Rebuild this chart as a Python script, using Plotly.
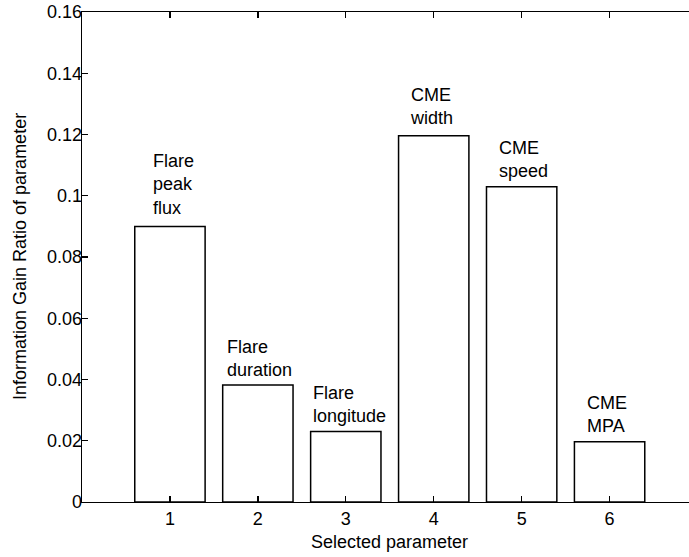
import plotly.graph_objects as go

params = [1, 2, 3, 4, 5, 6]
gain_ratio = [0.090, 0.0382, 0.023, 0.1196, 0.1029, 0.0197]
bar_labels = ["Flare<br>peak<br>flux", "Flare<br>duration", "Flare<br>longitude",
              "CME<br>width", "CME<br>speed", "CME<br>MPA"]
label_x = [0.79, 1.625, 2.60, 3.71, 4.72, 5.715]
label_y = [0.1036, 0.0467, 0.0320, 0.1291, 0.1117, 0.0286]
y_ticks = [0, 0.02, 0.04, 0.06, 0.08, 0.1, 0.12, 0.14, 0.16]
y_tick_text = ["0", "0.02", "0.04", "0.06", "0.08", "0.1", "0.12", "0.14", "0.16"]

FONT = "Liberation Sans, Arial, Helvetica, sans-serif"
FS = 18

fig = go.Figure()
fig.add_trace(go.Bar(
    x=params, y=gain_ratio, width=0.8,
    marker=dict(color="white", line=dict(color="black", width=1.5)),
    showlegend=False, hoverinfo="skip",
))

for t, x, y in zip(bar_labels, label_x, label_y):
    fig.add_annotation(x=x, y=y, xref="x", yref="y", text=t, showarrow=False,
                       xanchor="left", yanchor="middle", align="left",
                       font=dict(family=FONT, size=FS, color="black"))

fig.add_annotation(x=0, y=0.5, xref="paper", yref="paper", xshift=-62,
                   text="Information Gain Ratio of parameter", textangle=-90,
                   showarrow=False, xanchor="center", yanchor="middle",
                   font=dict(family=FONT, size=FS, color="black"))
fig.add_annotation(x=(3.5 - 0) / 6.903, y=0, xref="paper", yref="paper", yshift=-40,
                   text="Selected parameter", showarrow=False,
                   xanchor="center", yanchor="middle",
                   font=dict(family=FONT, size=FS, color="black"))

fig.update_layout(
    width=689, height=557,
    margin=dict(l=82, r=0, t=12, b=55),
    paper_bgcolor="white", plot_bgcolor="white",
    font=dict(family=FONT, size=FS, color="black"),
    bargap=0,
)
fig.update_xaxes(range=[0, 6.903], tickvals=params, ticktext=[str(p) for p in params],
                 ticks="inside", ticklen=6, tickwidth=1.3, tickcolor="black",
                 showline=True, linecolor="black", linewidth=1.3, mirror="ticks",
                 showgrid=False, zeroline=False, fixedrange=True)
fig.update_yaxes(range=[0, 0.16], tickvals=y_ticks, ticktext=y_tick_text,
                 ticks="inside", ticklen=6, tickwidth=1.3, tickcolor="black",
                 ticklabelstandoff=-5,
                 showline=True, linecolor="black", linewidth=1.3, mirror=False,
                 showgrid=False, zeroline=False, fixedrange=True)

fig.write_html("out.html", config={"displayModeBar": False, "staticPlot": True},
               post_script="document.body.style.margin='0';document.body.style.overflow='hidden';")
